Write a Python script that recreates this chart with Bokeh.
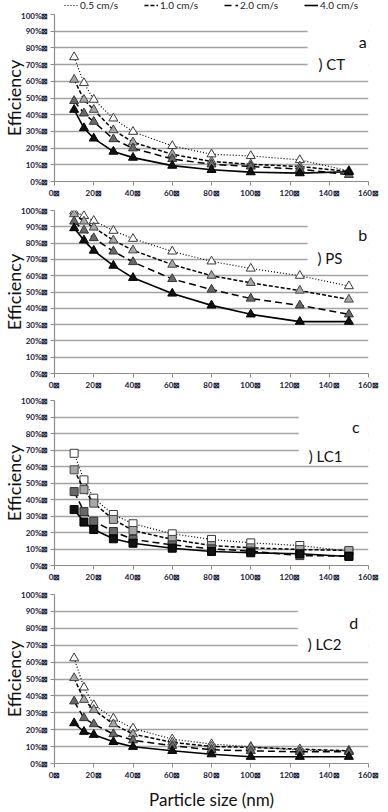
import math
from bokeh.plotting import figure
from bokeh.layouts import column
from bokeh.models import (Range1d, FixedTicker, Label, BoxAnnotation, Legend, LegendItem)
from bokeh.embed import file_html
from bokeh.resources import INLINE

# ---------------- data ----------------
particle_nm = [10, 15, 20, 30, 40, 60, 80, 100, 125, 150]
series_names = ["0.5 cm/s", "1.0 cm/s", "2.0 cm/s", "4.0 cm/s"]

ct_05 = [74.5, 59.0, 49.0, 37.8, 29.8, 21.3, 16.3, 15.3, 12.9, 6.4]
ct_10 = [61.0, 49.0, 43.0, 30.8, 23.5, 16.3, 12.0, 10.3, 9.0, 6.0]
ct_20 = [48.3, 40.8, 35.8, 25.4, 19.9, 13.5, 10.3, 9.0, 7.4, 4.0]
ct_40 = [43.0, 32.0, 25.8, 17.9, 14.3, 9.5, 7.0, 5.6, 5.0, 5.8]

ps_05 = [99.4, 96.7, 93.7, 87.6, 82.7, 74.9, 68.8, 64.4, 60.0, 53.6]
ps_10 = [97.8, 93.3, 89.6, 81.7, 75.6, 66.8, 60.0, 55.6, 50.9, 45.4]
ps_20 = [93.3, 87.8, 83.1, 74.9, 68.4, 58.0, 51.5, 46.0, 41.8, 36.3]
ps_40 = [89.2, 81.7, 75.4, 66.2, 58.7, 49.1, 41.8, 36.3, 31.8, 31.8]

lc1_05 = [68.0, 51.9, 40.8, 30.9, 25.3, 19.2, 15.8, 13.7, 12.1, 8.7]
lc1_10 = [58.0, 46.0, 37.8, 27.9, 21.2, 15.8, 12.1, 10.7, 9.7, 9.1]
lc1_20 = [44.8, 32.7, 26.9, 20.6, 15.8, 12.5, 10.1, 8.7, 6.0, 5.7]
lc1_40 = [33.9, 26.3, 21.8, 16.2, 13.5, 10.5, 8.5, 7.7, 7.1, 5.5]

lc2_05 = [62.3, 45.0, 34.6, 26.7, 20.8, 14.4, 11.5, 9.9, 7.9, 7.5]
lc2_10 = [50.6, 37.7, 31.8, 23.3, 17.4, 12.5, 10.1, 9.5, 8.5, 7.5]
lc2_20 = [36.8, 26.9, 23.3, 17.4, 13.8, 10.5, 8.1, 7.5, 6.9, 6.9]
lc2_40 = [23.9, 18.8, 17.0, 12.8, 9.9, 7.5, 5.5, 4.0, 4.0, 4.0]

x_ticks = [0, 20, 40, 60, 80, 100, 120, 140, 160]
x_tick_labels = ["0\u22a0", "20\u22a0", "40\u22a0", "60\u22a0", "80\u22a0",
                 "100\u22a0", "120\u22a0", "140\u22a0", "160\u22a0"]
y_ticks = [0, 10, 20, 30, 40, 50, 60, 70, 80, 90, 100]
y_tick_labels = ["0%\u22a0", "10%\u22a0", "20%\u22a0", "30%\u22a0", "40%\u22a0", "50%\u22a0",
                 "60%\u22a0", "70%\u22a0", "80%\u22a0", "90%\u22a0", "100%\u22a0"]

panel_letters = ["a", "b", "c", "d"]
panel_names = [") CT", ") PS", ") LC1", ") LC2"]
y_title = "Efficiency"
x_title = "Particle size (nm)"

# ---------------- styles ----------------
FONT = "Lato"
dashes = ["1 2", "4 2", "7 4", "solid"]
widths = [1.2, 1.5, 1.5, 1.6]
fills = ["#ffffff", "#a8a8a8", "#686868", "#111111"]
outlines = ["#3a3a3a", "#444444", "#333333", "#000000"]

panels = [
    dict(data=[ct_05, ct_10, ct_20, ct_40], marker="triangle", fh=167, top=4, bottom=17,
         box_left=129, letter_xy=(157, 84), name_xy=(134.5, 70.5)),
    dict(data=[ps_05, ps_10, ps_20, ps_40], marker="triangle", fh=163, top=10, bottom=15,
         box_left=129, letter_xy=(157, 85), name_xy=(134, 71)),
    dict(data=[lc1_05, lc1_10, lc1_20, lc1_40], marker="square", fh=165, top=8, bottom=17,
         box_left=124.5, letter_xy=(153.5, 84), name_xy=(129.5, 66.5)),
    dict(data=[lc2_05, lc2_10, lc2_20, lc2_40], marker="triangle", fh=169, top=10, bottom=41,
         box_left=124, letter_xy=(152.5, 83.5), name_xy=(129, 70.5)),
]

# ---------------- legend strip ----------------
# (the series lines are drawn here outside the visible range; only the legend shows)
leg = figure(frame_width=314, frame_height=10, width=380, height=10,
             min_border_left=45, min_border_right=21, min_border_top=0, min_border_bottom=0,
             x_range=Range1d(-20, -10), y_range=Range1d(0, 1),
             output_backend="svg", toolbar_location=None)
leg.axis.visible = False
leg.grid.grid_line_color = None
leg.outline_line_color = None
leg_renderers = [leg.line(particle_nm, panels[0]["data"][k], line_color="black",
                          line_width=widths[k], line_dash=dashes[k]) for k in range(4)]
legend = Legend(items=[LegendItem(label=series_names[k], renderers=[leg_renderers[k]])
                       for k in range(4)],
                orientation="horizontal", location="center",
                label_text_font=FONT, label_text_font_size="10px",
                label_text_color="#222222",
                glyph_width=14, glyph_height=10, label_height=10,
                label_standoff=2, spacing=26, padding=0, margin=0,
                border_line_alpha=0, background_fill_alpha=0)
leg.add_layout(legend, "center")

figs = [leg]
for i, cfg in enumerate(panels):
    p = figure(frame_width=314, frame_height=cfg["fh"], width=380,
               min_border_left=45, min_border_right=21,
               min_border_top=cfg["top"], min_border_bottom=cfg["bottom"],
               x_range=Range1d(0, 160), y_range=Range1d(0, 100),
               output_backend="svg", toolbar_location=None)
    p.outline_line_color = None
    p.background_fill_color = "white"

    # grid
    p.xgrid.grid_line_color = None
    p.ygrid.ticker = FixedTicker(ticks=y_ticks)
    p.ygrid.grid_line_color = "#a4a4a4"
    p.ygrid.grid_line_width = 1.3

    # axes
    for ax in (p.xaxis[0], p.yaxis[0]):
        ax.axis_line_color = "#8c8c8c"
        ax.axis_line_width = 1.2
        ax.major_tick_line_color = "#8c8c8c"
        ax.major_tick_out = 4
        ax.major_tick_in = 0
        ax.minor_tick_line_color = None
        ax.major_label_text_font = FONT
        ax.major_label_text_font_size = "8px"
        ax.major_label_text_font_style = "bold"
        ax.major_label_text_color = "#20203a"
        ax.major_label_standoff = 2
    p.xaxis.ticker = FixedTicker(ticks=x_ticks)
    p.xaxis.major_label_overrides = {t: l for t, l in zip(x_ticks, x_tick_labels)}
    p.yaxis.ticker = FixedTicker(ticks=y_ticks)
    p.yaxis.major_label_overrides = {t: l for t, l in zip(y_ticks, y_tick_labels)}

    # y title
    p.yaxis.axis_label = y_title
    p.yaxis.axis_label_text_font = FONT
    p.yaxis.axis_label_text_font_size = "18px"
    p.yaxis.axis_label_text_font_style = "normal"
    p.yaxis.axis_label_text_color = "#111111"
    p.yaxis.axis_label_standoff = -7

    # white patch behind the panel annotation
    p.add_layout(BoxAnnotation(left=cfg["box_left"], right=160, bottom=63, top=97,
                               fill_color="white", fill_alpha=1.0, line_color=None,
                               level="glyph"))

    for k, ys in enumerate(cfg["data"]):
        p.line(particle_nm, ys, line_color="black", line_width=widths[k],
               line_dash=dashes[k])
        p.scatter(particle_nm, ys, marker=cfg["marker"],
                  size=9 if cfg["marker"] == "triangle" else 8,
                  fill_color=fills[k], line_color=outlines[k], line_width=1)

    # panel annotation text
    lx, ly = cfg["letter_xy"]
    p.add_layout(Label(x=lx, y=ly, text=panel_letters[i], text_align="center",
                       text_baseline="middle", text_font=FONT, text_font_size="16px",
                       text_color="#111111"))
    nx, ny = cfg["name_xy"]
    p.add_layout(Label(x=nx, y=ny, text=panel_names[i], text_align="left",
                       text_baseline="middle", text_font=FONT, text_font_size="15px",
                       text_color="#111111"))

    if i == 3:
        p.xaxis.axis_label = x_title
        p.xaxis.axis_label_text_font = FONT
        p.xaxis.axis_label_text_font_size = "17px"
        p.xaxis.axis_label_text_font_style = "normal"
        p.xaxis.axis_label_text_color = "#111111"
        p.xaxis.axis_label_standoff = 6

    figs.append(p)

layout = column(*figs, spacing=0)
open("out.html", "w").write(file_html(layout, INLINE))
